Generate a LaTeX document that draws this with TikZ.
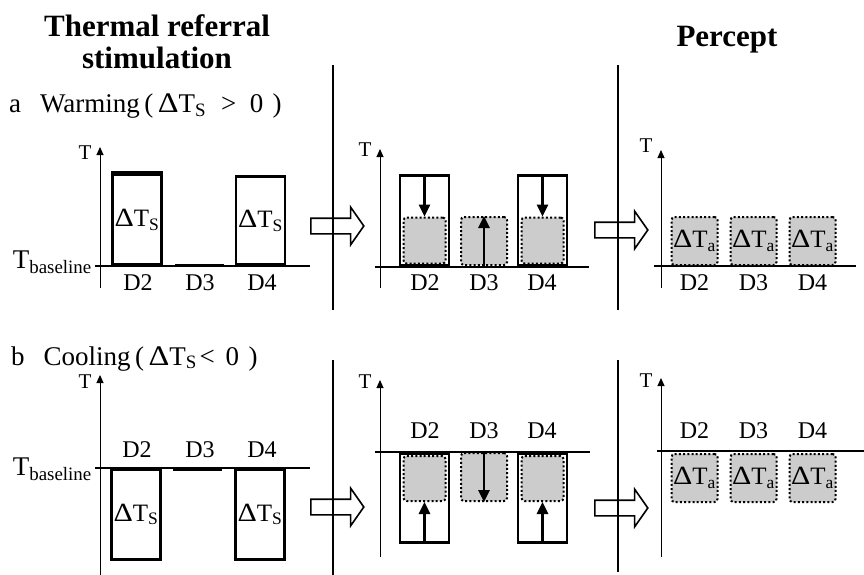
\documentclass[tikz,border=0pt]{standalone}
\usepackage{fontspec}
\setmainfont{Liberation Serif}
\usetikzlibrary{arrows.meta, shapes.arrows}
\newcommand{\dlt}{\scalebox{1.2}[1.05]{Δ}}

\begin{document}
\begin{tikzpicture}[x=1pt, y=-1pt, >={Triangle[length=8pt,width=7pt]},
    stimbox/.style={draw, line width=2.6pt, inner sep=0pt, minimum width=49pt, font=\fontsize{25}{27}\selectfont},
    graybox/.style={draw, fill=black!20, line width=2pt, dash pattern=on 2pt off 2.2pt, rounded corners=3pt, inner sep=0pt, minimum width=46pt, minimum height=48pt, font=\fontsize{25}{27}\selectfont},
    bar/.style={fill, inner sep=0pt, minimum width=49pt, minimum height=3.5pt},
    axis/.style={line width=1pt, ->},
    rail/.style={line width=1.1pt},
    sep/.style={line width=1.3pt},
    bigarrow/.style={draw, line width=1.6pt, single arrow, inner sep=7pt, minimum height=53pt, single arrow head extend=11pt, single arrow tip angle=110, anchor=tail},
    shiftarrow/.style={line width=2.6pt, -{Triangle[length=12pt,width=11pt]}},
    dlabel/.style={font=\fontsize{24}{26}\selectfont, anchor=base},
    tlabel/.style={font=\fontsize{21}{23}\selectfont, anchor=base east},
    baselabel/.style={font=\fontsize{27}{29}\selectfont, anchor=east, inner sep=0pt},
    rowlabel/.style={font=\fontsize{27}{29}\selectfont, anchor=base west, inner sep=0pt}
]
    \useasboundingbox (0,0) rectangle (864,575);

    % --- Headings ---
    \node[font=\fontsize{31}{32.5}\bfseries, align=center, anchor=north, inner sep=0pt] (title) at (157,14) {Thermal referral\\stimulation};
    \node[font=\fontsize{31}{32}\bfseries, anchor=base, inner sep=0pt] (percept) at (727,47) {Percept};
    \node[rowlabel] (rowA) at (9,113) {a\hspace{0.7em}Warming\,(\,\dlt T\textsubscript{S}\hspace{0.55em}>\hspace{0.5em}0\hspace{0.35em})};
    \node[rowlabel] (rowB) at (11,365) {b\hspace{0.7em}Cooling\,(\,\dlt T\textsubscript{S}\hspace{0.1em}<\hspace{0.4em}0\hspace{0.35em})};

    % --- Separators ---
    \draw[sep] (333,65) -- (333,310);
    \draw[sep] (333,360) -- (333,575);
    \draw[sep] (618,65) -- (618,310);
    \draw[sep] (618,360) -- (618,572);

    % ===== Row a: warming =====
    % --- stimulation ---
    \draw[axis] (100,288) -- (100,147);
    \node[tlabel] (tA1) at (95,159) {T};
    \draw[rail] (95,266) -- (310,266);
    \node[baselabel] (baseA) at (92,262) {T\textsubscript{baseline}};
    \node[stimbox, minimum height=90pt, anchor=south] (stimA2) at (137,266) {\dlt T\textsubscript{S}};
    \draw[line width=4pt] (stimA2.north west) -- (stimA2.north east);
    \node[bar, anchor=south] (barA3) at (199.5,267.5) {};
    \node[stimbox, minimum height=88pt, anchor=south] (stimA4) at (260.5,266) {\dlt T\textsubscript{S}};
    \foreach \x/\n in {138/2, 200/3, 262/4}
        \node[dlabel] (labA1\n) at (\x,290) {D\n};

    % --- shift ---
    \draw[axis] (380,288) -- (380,149);
    \node[tlabel] (tA2) at (375,156) {T};
    \draw[rail] (375,267) -- (589,267);
    \node[stimbox, minimum height=90pt, anchor=south] (midA2) at (424.5,267) {};
    \node[stimbox, minimum height=90pt, anchor=south] (midA4) at (542.5,267) {};
    \node[graybox, minimum width=42pt, minimum height=46pt, anchor=south] (grayA2) at (424.5,264.5) {};
    \node[graybox, anchor=south] (grayA3) at (484,266) {};
    \node[graybox, minimum width=42pt, minimum height=46pt, anchor=south] (grayA4) at (542.5,264.5) {};
    \draw[shiftarrow] (midA2.north) -- (grayA2.north);
    \draw[shiftarrow] (grayA3.south) -- (grayA3.north);
    \draw[shiftarrow] (midA4.north) -- (grayA4.north);
    \foreach \x/\n in {425/2, 484/3, 542/4}
        \node[dlabel] (labA2\n) at (\x,290) {D\n};

    % --- percept ---
    \draw[axis] (661,288) -- (661,150);
    \node[tlabel] (tA3) at (656,152) {T};
    \draw[rail] (654,266) -- (856,266);
    \foreach \x/\n in {694.5/2, 753.5/3, 812.5/4}{
        \node[graybox, anchor=south] (percA\n) at (\x,266) {\dlt T\textsubscript{a}};
        \node[dlabel] (labA3\n) at (\x,290) {D\n};
    }

    % --- big arrows ---
    \node[bigarrow] (goA1) at (310,226) {};
    \node[bigarrow] (goA2) at (594,230) {};

    % ===== Row b: cooling =====
    % --- stimulation ---
    \draw[axis] (100,575) -- (100,375);
    \node[tlabel] (tB1) at (95,388) {T};
    \draw[rail] (95,468) -- (310,468);
    \node[baselabel] (baseB) at (92,469) {T\textsubscript{baseline}};
    \node[stimbox, minimum height=90pt, anchor=north] (stimB2) at (136,468) {\dlt T\textsubscript{S}};
    \node[bar, anchor=north] (barB3) at (197.5,467) {};
    \node[stimbox, minimum height=90pt, anchor=north] (stimB4) at (260,468) {\dlt T\textsubscript{S}};
    \foreach \x/\n in {137/2, 200/3, 262/4}
        \node[dlabel] (labB1\n) at (\x,457) {D\n};

    % --- shift ---
    \draw[axis] (380,557) -- (380,380);
    \node[tlabel] (tB2) at (375,388) {T};
    \draw[rail] (375,452) -- (590,452);
    \node[stimbox, minimum height=89pt, anchor=north] (midB2) at (424.5,452) {};
    \node[stimbox, minimum height=89pt, anchor=north] (midB4) at (542.5,452) {};
    \node[graybox, minimum width=42pt, minimum height=45pt, anchor=north] (grayB2) at (424.5,455) {};
    \node[graybox, anchor=north] (grayB3) at (484,452) {};
    \node[graybox, minimum width=42pt, minimum height=45pt, anchor=north] (grayB4) at (542.5,455) {};
    \draw[shiftarrow] (midB2.south) -- (grayB2.south);
    \draw[shiftarrow] (grayB3.north) -- (grayB3.south);
    \draw[shiftarrow] (midB4.south) -- (grayB4.south);
    \foreach \x/\n in {425/2, 484/3, 542/4}
        \node[dlabel] (labB2\n) at (\x,438) {D\n};

    % --- percept ---
    \draw[axis] (661,557) -- (661,378);
    \node[tlabel] (tB3) at (656,387) {T};
    \draw[rail] (657,451) -- (864,451);
    \foreach \x/\n in {694.5/2, 753.5/3, 812.5/4}{
        \node[graybox, anchor=north] (percB\n) at (\x,453) {\dlt T\textsubscript{a}};
        \node[dlabel] (labB3\n) at (\x,438) {D\n};
    }

    % --- big arrows ---
    \node[bigarrow] (goB1) at (310,507) {};
    \node[bigarrow] (goB2) at (594,508) {};

\end{tikzpicture}
\end{document}
